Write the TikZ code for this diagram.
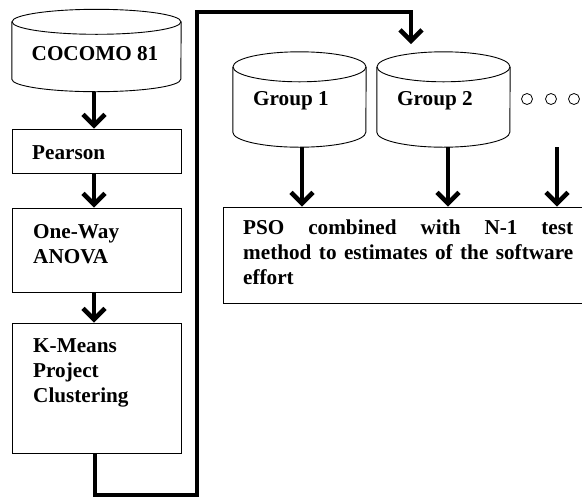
\documentclass[tikz,border=0pt]{standalone}
\usepackage{fontspec}
\setmainfont{Liberation Serif}
\usetikzlibrary{arrows.meta}
\tikzset{
  box/.style={draw, line width=0.9pt, inner sep=0pt, minimum width=169pt},
  cylarea/.style={inner sep=0pt},
  cylline/.style={line width=0.9pt},
  lbl/.style={font=\fontsize{21.2}{25}\selectfont\bfseries, anchor=base west, inner sep=0pt},
  flow/.style={line width=4.5pt, -{Straight Barb[length=11pt,width=22pt]}},
  dot/.style={line width=0.8pt},
}
\newcommand\cylshape[3]{%
  \draw[cylline] ([yshift=-#3pt]#1.north west) -- ([yshift=#3pt]#1.south west)
     arc[start angle=180,end angle=360,x radius=#2pt,y radius=#3pt]
     -- ([yshift=-#3pt]#1.north east);
  \draw[cylline] ([yshift=-#3pt]#1.north) ellipse[x radius=#2pt,y radius=#3pt];}
\begin{document}
\begin{tikzpicture}[x=1pt,y=1pt]
\useasboundingbox (0,0) rectangle (582,-499);
% left column
\node[cylarea, minimum width=169pt, minimum height=82pt] (coc) at (96.5,-50.5) {};
\cylshape{coc}{84.5}{12.5}
\node[lbl, anchor=base] (coct) at (95,-60) {COCOMO 81};
\node[box, minimum height=44pt] (pear) at (96.5,-151) {};
\node[lbl] (peart) at (32,-159) {Pearson};
\node[box, minimum height=84pt] (anova) at (96.5,-250) {};
\node[lbl] (anovat) at (33,-238) {\parbox[t]{140pt}{One-Way\\ANOVA}};
\node[box, minimum height=130pt] (km) at (96.5,-388) {};
\node[lbl] (kmt) at (33,-352) {\parbox[t]{140pt}{K-Means\\Project\\Clustering}};
\draw[flow] ([xshift=-2.5pt]coc.south) -- ([xshift=-2.5pt]pear.north);
\draw[flow] ([xshift=-2.5pt]pear.south) -- ([xshift=-2.5pt]anova.north);
\draw[flow] ([xshift=-2.5pt]anova.south) -- ([xshift=-2.5pt]km.north);
% groups
\node[cylarea, minimum width=133pt, minimum height=95pt] (g1) at (299.5,-99.5) {};
\cylshape{g1}{66.5}{15}
\node[lbl] (g1t) at (253,-105) {Group 1};
\node[cylarea, minimum width=133pt, minimum height=95pt] (g2) at (443.5,-99.5) {};
\cylshape{g2}{66.5}{15}
\node[lbl] (g2t) at (397,-105) {Group 2};
\draw[dot] (527,-99) circle[radius=5.5pt] (551,-99) circle[radius=5.5pt] (574,-99) circle[radius=5.5pt];
% PSO box
\node[box, minimum width=377pt, minimum height=96pt] (pso) at (411.5,-255) {};
\node[lbl] (psot) at (243,-234) {\parbox[t]{330pt}{\makebox[330pt][s]{PSO combined with N-1 test}\\\makebox[330pt][s]{method to estimates of the software}\\effort}};
\draw[flow] ([xshift=2.5pt]g1.south) -- ([xshift=2.5pt]g1.south |- pso.north);
\draw[flow] ([xshift=4.5pt]g2.south) -- ([xshift=4.5pt]g2.south |- pso.north);
\coordinate (d3) at (557,-147);
\draw[flow] (d3) -- (d3 |- pso.north);
% long connector
\coordinate (c1) at (197,-495);
\coordinate (c2) at (197,-12);
\coordinate (tip) at (411,-44);
\draw[flow] ([xshift=-1.5pt]km.south) |- (c1) -- (c2) -| (tip);
\end{tikzpicture}
\end{document}
